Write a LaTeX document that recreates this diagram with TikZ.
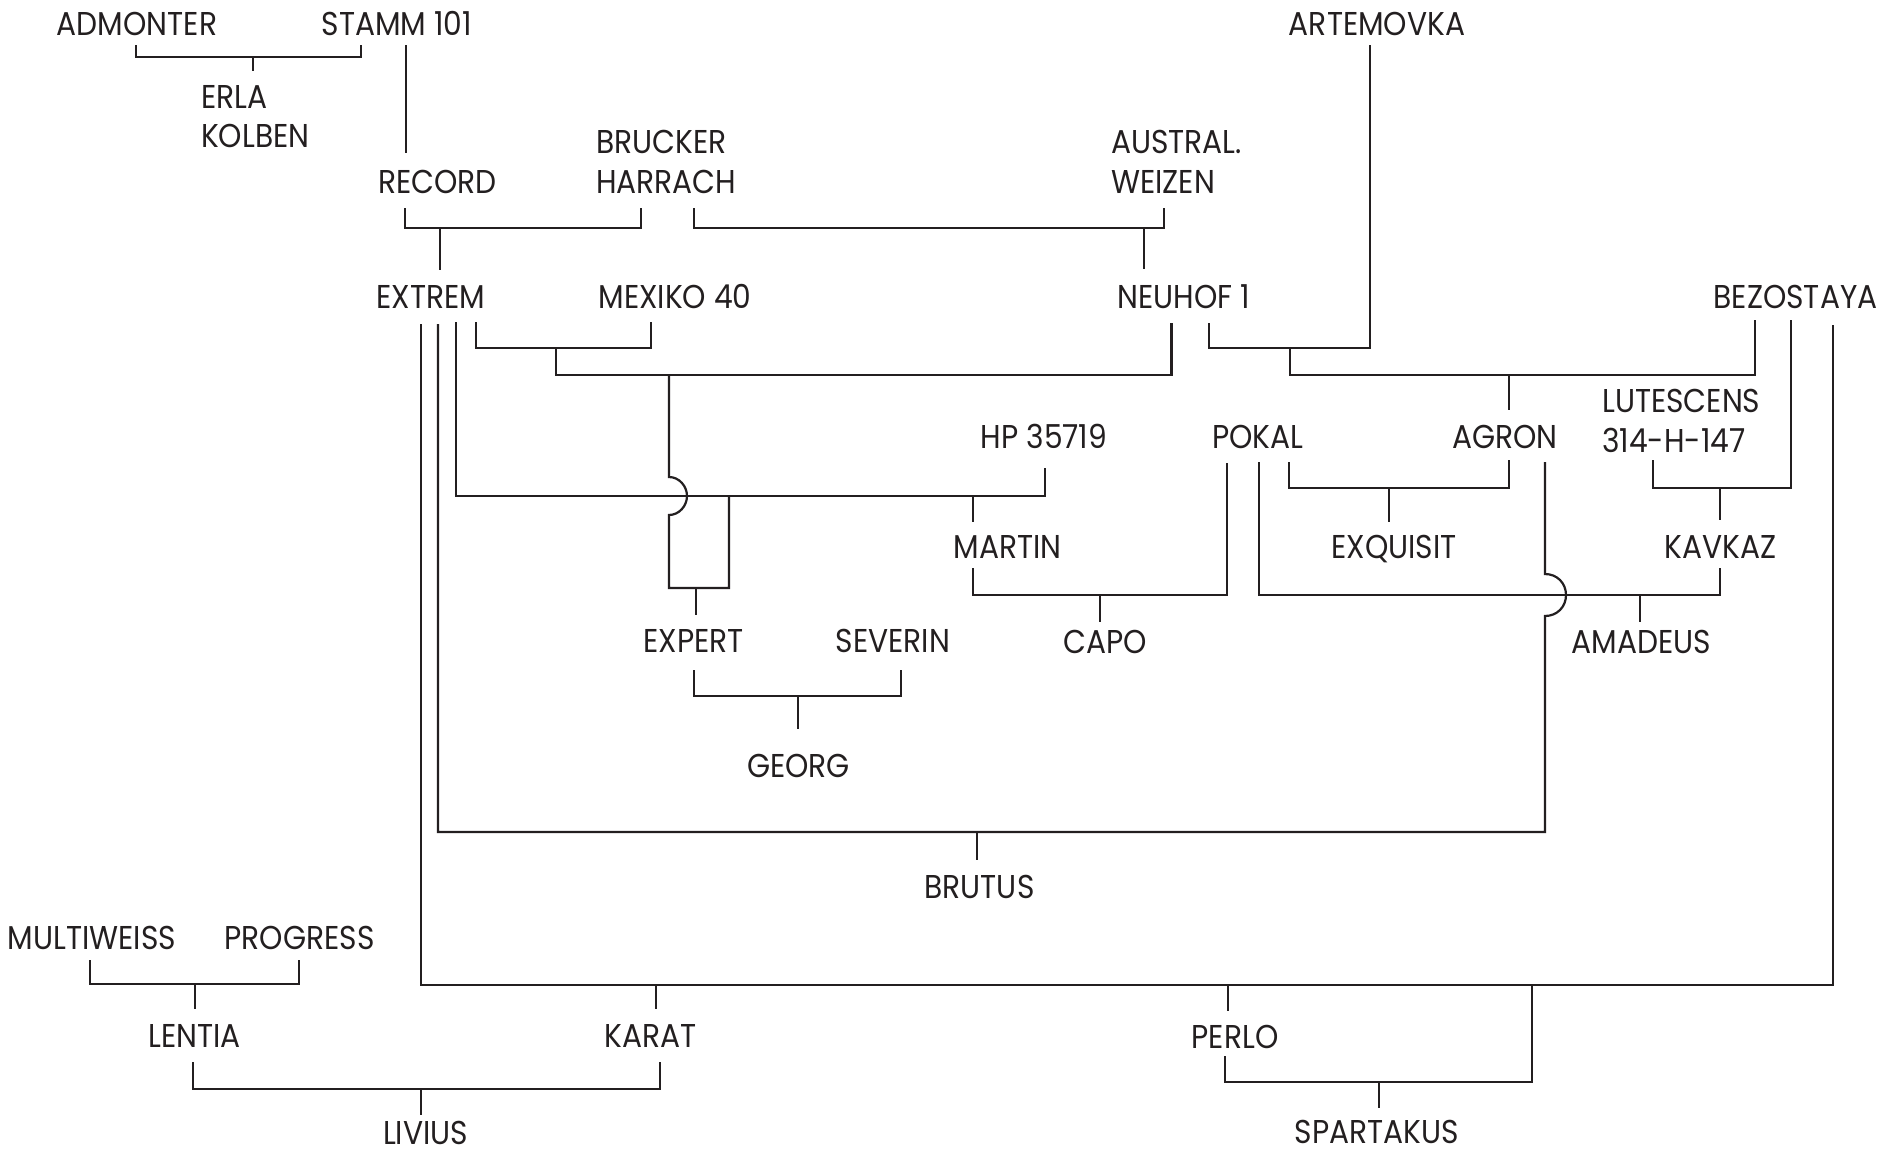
\documentclass[tikz,border=0pt]{standalone}
\usepackage{fontspec}
\setmainfont{Poppins}[FakeStretch=0.9]
\definecolor{ink}{HTML}{231F20}
\tikzset{
  lbl/.style={anchor=base, inner sep=0pt, text depth=0pt, text=ink, font=\fontsize{33}{38}\selectfont},
  lblw/.style={lbl, anchor=base west},
  ln/.style={line width=2.2pt, draw=ink, line join=miter}
}
\begin{document}
\begin{tikzpicture}[x=1pt,y=-1pt]
\useasboundingbox[fill=white] (0,0) rectangle (1884,1152);
% ---- labels
\node[lbl] (admonter) at (137,35) {ADMONTER};
\node[lbl] (stamm) at (397,35) {STAMM 101};
\node[lblw] (erla) at (201,108) {ERLA};
\node[lblw] (kolben) at (201,147) {KOLBEN};
\node[lbl] (record) at (437.5,193) {RECORD};
\node[lblw] (brucker) at (596,153) {BRUCKER};
\node[lblw] (harrach) at (596,193) {HARRACH};
\node[lblw] (austral) at (1111,153) {AUSTRAL.};
\node[lblw] (weizen) at (1111,193) {WEIZEN};
\node[lbl] (artemovka) at (1377,35) {ARTEMOVKA};
\node[lbl] (extrem) at (431,308) {EXTREM};
\node[lbl] (mexiko) at (675,308) {MEXIKO 40};
\node[lbl] (neuhof) at (1184,308) {NEUHOF 1};
\node[lbl] (bezostaya) at (1795.5,308) {BEZOSTAYA};
\node[lblw] (lutescens) at (1602,412) {LUTESCENS};
\node[lblw] (lut2) at (1602,452) {314-H-147};
\node[lbl] (hp) at (1044,448) {HP 35719};
\node[lbl] (pokal) at (1258,448) {POKAL};
\node[lbl] (agron) at (1505,448) {AGRON};
\node[lbl] (martin) at (1007.5,558) {MARTIN};
\node[lbl] (exquisit) at (1394,558) {EXQUISIT};
\node[lbl] (kavkaz) at (1720.5,558) {KAVKAZ};
\node[lbl] (expert) at (693.5,652) {EXPERT};
\node[lbl] (severin) at (893,652) {SEVERIN};
\node[lbl] (capo) at (1105.5,653) {CAPO};
\node[lbl] (amadeus) at (1641.5,653) {AMADEUS};
\node[lbl] (georg) at (798.5,777) {GEORG};
\node[lbl] (brutus) at (979.5,898) {BRUTUS};
\node[lbl] (multiweiss) at (92,949) {MULTIWEISS};
\node[lbl] (progress) at (299.5,949) {PROGRESS};
\node[lbl] (lentia) at (194.5,1047) {LENTIA};
\node[lbl] (karat) at (650.5,1047) {KARAT};
\node[lbl] (livius) at (425.5,1144) {LIVIUS};
\node[lbl] (perlo) at (1235,1048) {PERLO};
\node[lbl] (spartakus) at (1377,1143) {SPARTAKUS};
% ---- connectors
\draw[ln] (136,45) -- (136,57) -- (361,57) -- (361,45);
\draw[ln] (253,57) -- (253,71);
\draw[ln] (406,45) -- (406,153);
\draw[ln] (405,208) -- (405,228) -- (641,228) -- (641,208);
\draw[ln] (440,228) -- (440,270);
\draw[ln] (694,208) -- (694,228) -- (1164,228) -- (1164,208);
\draw[ln] (1144,228) -- (1144,269);
\draw[ln] (1370,45) -- (1370,348) -- (1209,348) -- (1209,323);
\draw[ln] (1290,348) -- (1290,375) -- (1755,375) -- (1755,320);
\draw[ln] (1509,375) -- (1509,410);
\draw[ln] (476,322) -- (476,348) -- (651,348) -- (651,322);
\draw[ln] (556,348) -- (556,375) -- (1171.5,375) -- (1171.5,323);
\draw[ln] (669,375) -- (669,477) .. controls (679,477) and (687,486) .. (687,496)
   .. controls (687,506) and (679,515) .. (669,515) -- (669,588) -- (729,588) -- (729,496);
\draw[ln] (696,588) -- (696,615);
\draw[ln] (456,322) -- (456,496) -- (1045,496) -- (1045,468);
\draw[ln] (973,496) -- (973,522);
\draw[ln] (973,568) -- (973,595) -- (1227,595) -- (1227,463);
\draw[ln] (1100,595) -- (1100,622);
\draw[ln] (1289,462) -- (1289,488) -- (1509,488) -- (1509,460);
\draw[ln] (1389,488) -- (1389,522);
\draw[ln] (1653,460) -- (1653,488) -- (1791,488) -- (1791,320);
\draw[ln] (1720,488) -- (1720,520);
\draw[ln] (1259,462) -- (1259,595) -- (1720,595) -- (1720,568);
\draw[ln] (1640,595) -- (1640,622);
\draw[ln] (438,324) -- (438,832) -- (1545,832) -- (1545,616)
   .. controls (1557,616) and (1566,607) .. (1566,595)
   .. controls (1566,583) and (1557,574) .. (1545,574) -- (1545,462);
\draw[ln] (977,832) -- (977,860);
\draw[ln] (694,670) -- (694,696) -- (901,696) -- (901,670);
\draw[ln] (798,696) -- (798,729);
\draw[ln] (421,324) -- (421,985) -- (1833,985) -- (1833,325);
\draw[ln] (656,985) -- (656,1009);
\draw[ln] (1228,985) -- (1228,1011);
\draw[ln] (1225,1056) -- (1225,1082) -- (1532,1082) -- (1532,985);
\draw[ln] (1379,1082) -- (1379,1108);
\draw[ln] (90,960) -- (90,984) -- (299,984) -- (299,960);
\draw[ln] (195,984) -- (195,1009);
\draw[ln] (193,1062) -- (193,1089) -- (660,1089) -- (660,1062);
\draw[ln] (421,1089) -- (421,1115);
\end{tikzpicture}
\end{document}
